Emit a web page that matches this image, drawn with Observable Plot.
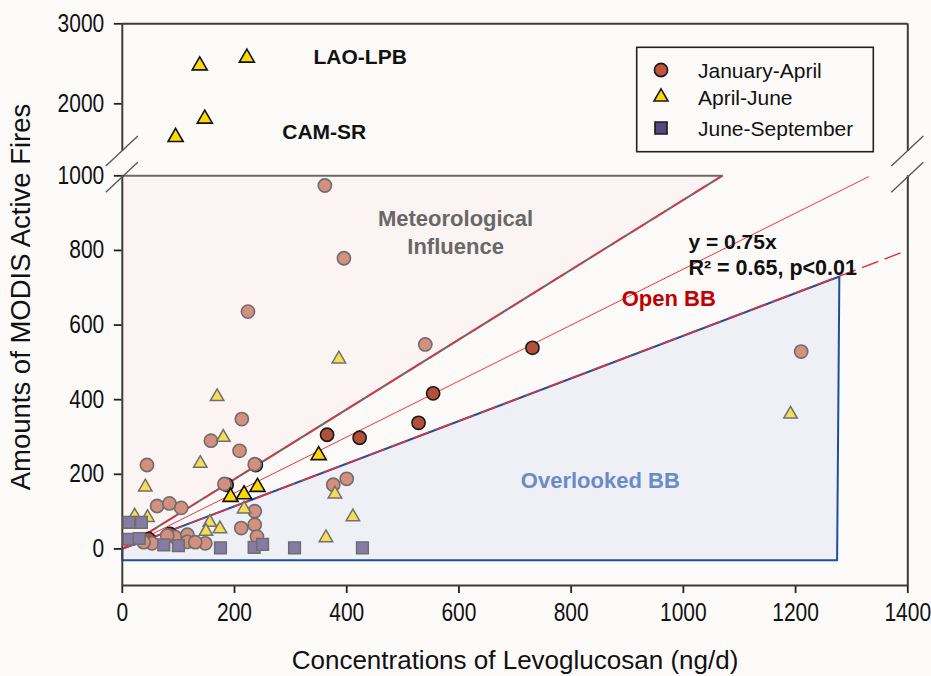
<!DOCTYPE html>
<html><head><meta charset="utf-8">
<script src="https://cdn.jsdelivr.net/npm/d3@7"></script>
<script src="https://cdn.jsdelivr.net/npm/@observablehq/plot@0.6"></script>
<style>
html,body{margin:0;padding:0;background:#fdfafa;}
#chart{position:relative;width:931px;height:676px;overflow:hidden;}
#chart svg{position:absolute;left:0;}
</style></head><body><div id="chart"></div>
<script>
// ---------------- data ----------------
// January-April, highlighted (dark) points
const janAprX = [47, 85, 186, 238, 365, 423, 528, 554, 731];
const janAprY = [27, 40, 172, 225, 306, 298, 338, 417, 539];
// other sites, January-April (faded)
const otherCircX = [361, 395, 224, 540, 213, 158, 209, 44, 236, 182, 62, 84, 105, 236, 236, 212, 240, 376, 400, 1210, 53, 38, 94, 116, 116, 148, 130, 80];
const otherCircY = [974, 779, 636, 548, 348, 290, 263, 225, 227, 174, 115, 122, 110, 101, 65, 56, 33, 172, 188, 529, 15, 18, 32, 38, 19, 15, 18, 36];
// April-June, highlighted
const aprJunX = [350, 193, 217, 241, 95, 147, 138, 222];
const aprJunY = [251, 139, 146, 166, 1583, 1813, 2479, 2575];
// other sites, April-June (faded)
const otherTriX = [169, 180, 139, 41, 217, 379, 411, 363, 156, 149, 174, 22, 45, 386, 1191];
const otherTriY = [408, 299, 229, 166, 107, 147, 86, 30, 71, 47, 54, 88, 84, 509, 361];
// June-September
const junSepX = [12, 34, 12, 30, 74, 100, 175, 235, 250, 307, 428];
const junSepY = [71, 71, 26, 28, 11, 9, 3, 4, 12, 3, 3];

// regions & lines
const meteoX = [0, 1069, 0];
const meteoY = [1000, 1000, 0];
const overX = [0, 1278, 1274, 0, 0];
const overY = [0, 730, -30, -30, 0];
const fitX = [0, 1330];
const fitY = [0, 997.5];          // y = 0.75x
const upperBoundX = [0, 1069];
const upperBoundY = [0, 1000];
const lowerBoundX = [0, 1390];
const lowerBoundY = [0, 795];

const xTicks = [0, 200, 400, 600, 800, 1000, 1200, 1400];
const yTicksLow = [0, 200, 400, 600, 800, 1000];
const yTicksHigh = [2000, 3000];
const legendLabels = ["January-April", "April-June", "June-September"];

// broken y axis
const lowDomain = [-98, 1000];
const highDomain = [1404, 3000];

// annotations (data coordinates)
const notesLow = [
  {x: 594, y: 851, text: "Meteorological\nInfluence", fill: "#686868", anchor: "middle", size: 22},
  {x: 974, y: 675, text: "Open BB", fill: "#c00000", anchor: "middle", size: 22},
  {x: 1009, y: 826, text: "y = 0.75x", fill: "#111", anchor: "start", size: 21},
  {x: 1009, y: 757, text: "R² = 0.65, p<0.01", fill: "#111", anchor: "start", size: 21.5},
  {x: 852, y: 186, text: "Overlooked BB", fill: "#6a8bc6", anchor: "middle", size: 22}
];
const notesHigh = [
  {x: 424, y: 2604, text: "LAO-LPB", fill: "#111", anchor: "middle", size: 21},
  {x: 360, y: 1666, text: "CAM-SR", fill: "#111", anchor: "middle", size: 21}
];

// ---------------- layout ----------------
const W = 931, H = 676;
const xLeft = 121.8, xRight = 907.3;
const yTop = 23.3, yBreakHigh = 151, yBreakLow = 175.3, yBottom = 585;
const frame = "#3c3c3c";
const font = "'Liberation Sans', Arial, sans-serif";

function idx(a) { return d3.range(a.length); }

function pointMarks(lo, hi) {
  const inR = Y => i => Y[i] >= lo && Y[i] <= hi;
  return [
    Plot.dot(idx(janAprX), {x: i => janAprX[i], y: i => janAprY[i], filter: inR(janAprY), r: 6.6, fill: "#b4503a", stroke: "#1a1a1a", strokeWidth: 1.6}),
    Plot.dot(idx(otherCircX), {x: i => otherCircX[i], y: i => otherCircY[i], filter: inR(otherCircY), r: 6.6, fill: "#d48f7e", stroke: "#6e6e6e", strokeWidth: 1.6}),
    Plot.dot(idx(otherTriX), {x: i => otherTriX[i], y: i => otherTriY[i], filter: inR(otherTriY), symbol: "triangle", r: 5.0, fill: "#f3de55", stroke: "#707070", strokeWidth: 1.5}),
    Plot.dot(idx(junSepX), {x: i => junSepX[i], y: i => junSepY[i], filter: inR(junSepY), symbol: "square", r: 6.6, fill: "#857ba4", stroke: "#6e6e6e", strokeWidth: 1.5}),
    Plot.dot(idx(aprJunX), {x: i => aprJunX[i], y: i => aprJunY[i], filter: inR(aprJunY), symbol: "triangle", r: 5.6, fill: "#ffd800", stroke: "#111", strokeWidth: 1.6})
  ];
}
function noteMarks(notes) {
  return notes.map(d => Plot.text([d], {x: "x", y: "y", text: "text", fill: d.fill, textAnchor: d.anchor, fontSize: d.size, fontWeight: "bold", lineHeight: 1.27}));
}
const line = (X, Y, o) => Plot.line(idx(X), {x: i => X[i], y: i => Y[i], ...o});

// upper panel
const upper = Plot.plot({
  width: W, height: yBreakHigh,
  marginLeft: xLeft, marginRight: W - xRight, marginTop: yTop, marginBottom: 0,
  style: {background: "transparent", fontFamily: font, fontSize: "21px", color: "#111"},
  x: {domain: [0, 1400], axis: null},
  y: {domain: highDomain, ticks: yTicksHigh, tickSize: 8, tickPadding: 10, label: null, tickFormat: d => String(d)},
  marks: [
    Plot.ruleX([0, 1400], {y1: highDomain[0], y2: highDomain[1], stroke: frame, strokeWidth: 2}),
    Plot.ruleY([highDomain[1]], {x1: 0, x2: 1400, stroke: frame, strokeWidth: 2}),
    ...pointMarks(highDomain[0], highDomain[1]),
    ...noteMarks(notesHigh)
  ]
});
upper.style.top = "0px";

// lower panel
const lower = Plot.plot({
  width: W, height: H - yBreakHigh,
  marginLeft: xLeft, marginRight: W - xRight, marginTop: yBreakLow - yBreakHigh, marginBottom: H - yBottom,
  style: {background: "transparent", fontFamily: font, fontSize: "21px", color: "#111"},
  x: {domain: [0, 1400], ticks: xTicks, tickSize: 8, tickPadding: 10, label: null, tickFormat: d => String(d)},
  y: {domain: lowDomain, ticks: yTicksLow, tickSize: 8, tickPadding: 10, label: null, tickFormat: d => String(d)},
  marks: [
    line(meteoX, meteoY, {fill: "#fcf3f3", stroke: "#6b6b6b", strokeWidth: 2}),
    line(overX, overY, {fill: "#eef0f6", stroke: "#1f4f9c", strokeWidth: 2}),
    line(fitX, fitY, {stroke: "#ff3333", strokeWidth: 1}),
    line(upperBoundX, upperBoundY, {stroke: "#e8303c", strokeWidth: 1.5, strokeDasharray: "16,8"}),
    line(lowerBoundX, lowerBoundY, {stroke: "#e8303c", strokeWidth: 1.5, strokeDasharray: "16,8"}),
    Plot.ruleX([0, 1400], {y1: lowDomain[0], y2: lowDomain[1], stroke: frame, strokeWidth: 2}),
    Plot.ruleY([lowDomain[0]], {x1: 0, x2: 1400, stroke: frame, strokeWidth: 2}),
    ...pointMarks(lowDomain[0], lowDomain[1]),
    ...noteMarks(notesLow)
  ]
});
lower.style.top = yBreakHigh + "px";

const chart = document.getElementById("chart");
chart.appendChild(lower);
chart.appendChild(upper);

// axis text styling: tall, narrow digits as in the reference
const SX = 0.84;
function scaleAttr(v) {
  if (v == null) return v;
  const m = String(v).match(/^(-?[\d.]+)(em|px)?$/);
  if (!m) return v;
  return (parseFloat(m[1]) / SX) + (m[2] || "");
}
[upper, lower].forEach(p => {
  const s = d3.select(p);
  s.selectAll("g[aria-label^='x-axis'] text, g[aria-label^='y-axis'] text").each(function() {
    const t = d3.select(this);
    t.style("font-size", "25px");
    const tr = t.attr("transform") || "";
    t.attr("transform", (tr + ` scale(${SX},1)`).trim());
    if (t.attr("x") != null) t.attr("x", scaleAttr(t.attr("x")));
    if (t.attr("dx") != null) t.attr("dx", scaleAttr(t.attr("dx")));
  });
  s.selectAll("g[aria-label^='x-axis'] line, g[aria-label^='y-axis'] line, g[aria-label^='x-axis'] path, g[aria-label^='y-axis'] path")
    .attr("stroke", "#222").attr("stroke-width", 1.8);
});

// overlay: break marks, titles, legend
const ov = d3.select(chart).append("svg").attr("width", W).attr("height", H)
  .style("top", "0px").style("font-family", font).style("pointer-events", "none");
const deco = ov.append("g").attr("stroke", "#555").attr("stroke-width", 1.3);
[xLeft, xRight].forEach(x0 => {
  [yBreakHigh, yBreakLow + 2].forEach(yc => {
    deco.append("line").attr("x1", x0 - 16).attr("y1", yc + 15).attr("x2", x0 + 16).attr("y2", yc - 15);
  });
});
ov.append("text").attr("x", 515).attr("y", 669).attr("text-anchor", "middle")
  .attr("font-size", 26).attr("fill", "#111").text("Concentrations of Levoglucosan (ng/d)");
ov.append("text").attr("transform", "translate(30,297) rotate(-90)").attr("text-anchor", "middle")
  .attr("font-size", 27.5).attr("fill", "#111").text("Amounts of MODIS Active Fires");

const lg = ov.append("g");
lg.append("rect").attr("x", 636.7).attr("y", 47.3).attr("width", 236.6).attr("height", 104.4)
  .attr("fill", "none").attr("stroke", "#222").attr("stroke-width", 1.6);
const rowsY = [70, 97, 128];
const syms = [
  {type: d3.symbolCircle, size: Math.PI * 6.6 * 6.6, fill: "#c0553d"},
  {type: d3.symbolTriangle, size: Math.PI * 5.2 * 5.2, fill: "#ffd800"},
  {type: d3.symbolSquare, size: 12 * 12, fill: "#54487e"}
];
syms.forEach((s, i) => {
  lg.append("path").attr("d", d3.symbol(s.type, s.size)()).attr("transform", `translate(661,${rowsY[i]})`)
    .attr("fill", s.fill).attr("stroke", "#1a1a1a").attr("stroke-width", 1.6);
  lg.append("text").attr("x", 698).attr("y", rowsY[i] + 7.5).attr("text-anchor", "start")
    .attr("font-size", 21).attr("fill", "#111").text(legendLabels[i]);
});
</script>
</body></html>
